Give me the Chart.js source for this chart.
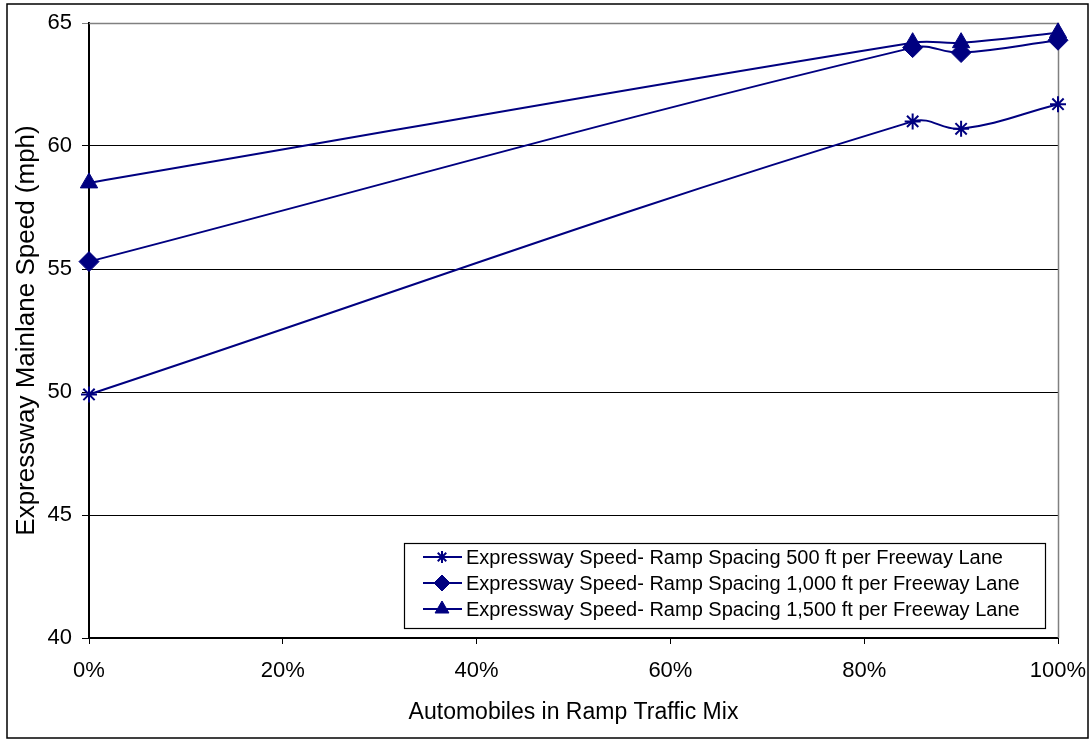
<!DOCTYPE html>
<html>
<head>
<meta charset="utf-8">
<script src="https://cdn.jsdelivr.net/npm/chart.js@4/dist/chart.umd.min.js"></script>
<style>
  html, body { margin: 0; padding: 0; background: #fff; }
  #wrap { width: 1092px; height: 740px; }
</style>
</head>
<body>
<div id="wrap"><canvas id="chart" width="1092" height="740"></canvas></div>
<script>
const mixPct = [0, 85, 90, 100];
const speed500 = [49.9, 61.0, 60.7, 61.7];
const speed1000 = [55.3, 64.0, 63.8, 64.3];
const speed1500 = [58.5, 64.2, 64.2, 64.6];
const seriesLabels = [
  "Expressway Speed- Ramp Spacing 500 ft per Freeway Lane",
  "Expressway Speed- Ramp Spacing 1,000 ft per Freeway Lane",
  "Expressway Speed- Ramp Spacing 1,500 ft per Freeway Lane",
];
const xTicks = [0, 20, 40, 60, 80, 100];
const yTicks = [40, 45, 50, 55, 60, 65];

const navy = "#000080";
const font = "'Liberation Sans', Arial, sans-serif";

function toPoints(values) {
  return mixPct.map((x, i) => ({ x, y: values[i] }));
}

function makeDataset(label, values, pointStyle, radius) {
  return {
    label,
    data: toPoints(values),
    borderColor: navy,
    backgroundColor: navy,
    borderWidth: 2,
    tension: 0.4,
    pointStyle,
    pointRadius: radius,
    pointHoverRadius: radius,
    pointBorderWidth: pointStyle === "star" ? 2 : 1,
    clip: false,
  };
}

const frame = {
  id: "frame",
  beforeDatasetsDraw(chart) {
    const { ctx, chartArea: a } = chart;
    ctx.save();
    ctx.strokeStyle = "#808080";
    ctx.lineWidth = 1.5;
    ctx.beginPath();
    ctx.moveTo(a.left, a.top + 0.5);
    ctx.lineTo(a.right + 0.5, a.top + 0.5);
    ctx.lineTo(a.right + 0.5, a.bottom);
    ctx.stroke();
    ctx.restore();
  },
  afterDraw(chart) {
    const { ctx } = chart;
    ctx.save();
    // outer chart border
    ctx.strokeStyle = "#000";
    ctx.lineWidth = 1.5;
    ctx.strokeRect(7, 4, 1081, 734);

    // legend box inside plot area
    const box = { x: 404, y: 543, w: 641, h: 85 };
    ctx.fillStyle = "#fff";
    ctx.fillRect(box.x, box.y, box.w, box.h);
    ctx.lineWidth = 1.2;
    ctx.strokeRect(box.x + 0.5, box.y + 0.5, box.w, box.h);

    const rows = [557, 583, 609];
    ctx.font = "20px " + font;
    ctx.textBaseline = "middle";
    chart.data.datasets.forEach((ds, i) => {
      const y = rows[i];
      ctx.strokeStyle = navy;
      ctx.fillStyle = navy;
      ctx.lineWidth = 2;
      ctx.beginPath();
      ctx.moveTo(423, y);
      ctx.lineTo(462, y);
      ctx.stroke();
      ctx.lineWidth = ds.pointBorderWidth;
      Chart.helpers.drawPoint(ctx, {
        pointStyle: ds.pointStyle,
        radius: ds.pointRadius - 2,
        rotation: 0,
        borderWidth: ds.pointBorderWidth,
      }, 442, y);
      ctx.fillStyle = "#000";
      ctx.fillText(ds.label, 466, y + 1);
    });
    ctx.restore();
  },
};

new Chart(document.getElementById("chart"), {
  type: "line",
  data: {
    datasets: [
      makeDataset(seriesLabels[0], speed500, "star", 8),
      makeDataset(seriesLabels[1], speed1000, "rectRot", 10),
      makeDataset(seriesLabels[2], speed1500, "triangle", 10),
    ],
  },
  options: {
    responsive: false,
    animation: false,
    layout: {
      padding: { left: 0, right: 34, top: 23, bottom: 0 },
    },
    plugins: {
      legend: { display: false },
      tooltip: { enabled: false },
    },
    scales: {
      x: {
        type: "linear",
        min: 0,
        max: 100,
        afterBuildTicks: (scale) => {
          scale.ticks = xTicks.map((value) => ({ value }));
        },
        afterFit: (scale) => {
          scale.height = 102;
          scale.paddingLeft = 0;
          scale.paddingRight = 0;
        },
        ticks: {
          color: "#000",
          font: { family: font, size: 22 },
          padding: 14,
          maxRotation: 0,
          callback: (v) => v + "%",
        },
        grid: {
          drawOnChartArea: false,
          drawTicks: true,
          tickLength: 6,
          color: "#000",
        },
        border: { color: "#000", width: 2 },
        title: {
          display: true,
          text: "Automobiles in Ramp Traffic Mix",
          color: "#000",
          font: { family: font, size: 23 },
          padding: { top: 0, bottom: 14 },
        },
      },
      y: {
        min: 40,
        max: 65,
        afterBuildTicks: (scale) => {
          scale.ticks = yTicks.map((value) => ({ value }));
        },
        afterFit: (scale) => {
          scale.width = 89;
          scale.paddingTop = 0;
          scale.paddingBottom = 0;
        },
        ticks: {
          color: "#000",
          font: { family: font, size: 22 },
          padding: 10,
        },
        grid: {
          color: (ctx) => (ctx.tick && ctx.tick.value === 65 ? "#808080" : "#000"),
          lineWidth: 1,
          tickLength: 7,
        },
        border: { color: "#000", width: 2 },
        title: {
          display: true,
          text: "Expressway Mainlane Speed (mph)",
          color: "#000",
          font: { family: font, size: 26 },
          padding: { top: 11, bottom: 0 },
        },
      },
    },
  },
  plugins: [frame],
});
</script>
</body>
</html>
